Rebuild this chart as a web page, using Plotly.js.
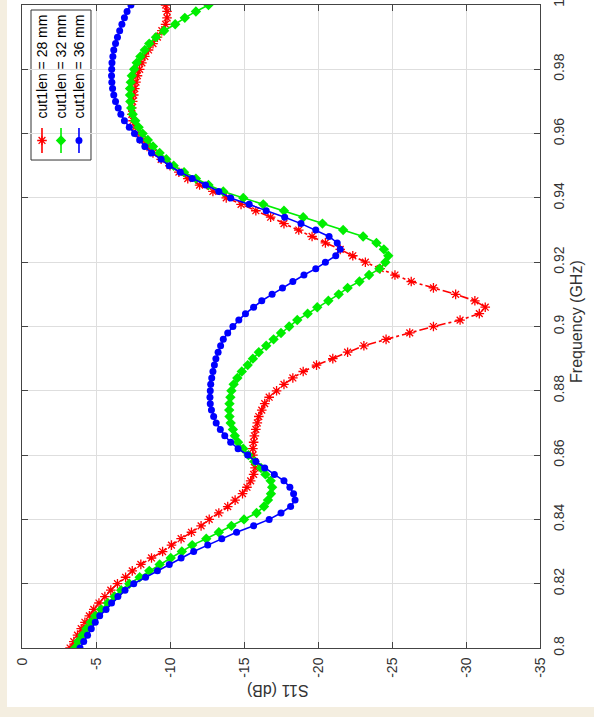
<!DOCTYPE html>
<html><head><meta charset="utf-8">
<script src="https://cdn.plot.ly/plotly-3.0.1.min.js"></script>
<style>
html,body{margin:0;padding:0;background:#f4eee0;width:594px;height:717px;overflow:hidden}
#chart{position:absolute;left:7px;top:0;width:587px;height:707px;background:#fff}
</style></head><body><div id="chart"></div>
<script>
const freqGHz = [
0.800,0.802,0.804,0.806,0.808,0.810,0.812,0.814,0.816,0.818,
0.820,0.822,0.824,0.826,0.828,0.830,0.832,0.834,0.836,0.838,
0.840,0.842,0.844,0.846,0.848,0.850,0.852,0.854,0.856,0.858,
0.860,0.862,0.864,0.866,0.868,0.870,0.872,0.874,0.876,0.878,
0.880,0.882,0.884,0.886,0.888,0.890,0.892,0.894,0.896,0.898,
0.900,0.902,0.904,0.906,0.908,0.910,0.912,0.914,0.916,0.918,
0.920,0.922,0.924,0.926,0.928,0.930,0.932,0.934,0.936,0.938,
0.940,0.942,0.944,0.946,0.948,0.950,0.952,0.954,0.956,0.958,
0.960,0.962,0.964,0.966,0.968,0.970,0.972,0.974,0.976,0.978,
0.980,0.982,0.984,0.986,0.988,0.990,0.992,0.994,0.996,0.998,
1.000];
const s11_28mm = [
-3.25,-3.5,-3.75,-4.0,-4.25,-4.55,-4.85,-5.2,-5.6,-6.0,
-6.45,-7.0,-7.45,-8.03,-8.75,-9.5,-10.1,-10.75,-11.45,-12.1,
-12.65,-13.3,-13.9,-14.4,-14.9,-15.2,-15.45,-15.65,-15.75,-15.7,
-15.6,-15.6,-15.65,-15.7,-15.8,-15.9,-16.0,-16.2,-16.4,-16.7,
-17.2,-17.7,-18.3,-19.0,-19.9,-21.0,-22.0,-23.1,-24.6,-26.2,
-27.8,-29.6,-30.9,-31.3,-30.6,-29.3,-27.8,-26.3,-25.2,-24.2,
-23.2,-22.35,-21.5,-20.5,-19.6,-18.7,-17.7,-16.8,-15.8,-14.8,
-13.8,-12.9,-12.0,-11.2,-10.6,-10.0,-9.4,-8.85,-8.45,-8.15,
-7.85,-7.65,-7.5,-7.42,-7.42,-7.48,-7.55,-7.62,-7.7,-7.8,
-7.95,-8.1,-8.3,-8.55,-8.85,-9.15,-9.45,-9.7,-9.8,-9.8,
-9.7];
const s11_32mm = [
-3.58,-3.8,-4.08,-4.35,-4.65,-4.95,-5.35,-5.8,-6.25,-6.7,
-7.25,-7.95,-8.6,-9.3,-10.05,-10.8,-11.5,-12.45,-13.3,-14.15,
-15.0,-15.85,-16.35,-16.62,-16.82,-16.9,-16.8,-16.45,-16.15,-15.7,
-15.3,-14.95,-14.6,-14.38,-14.25,-14.1,-14.02,-14.0,-14.02,-14.08,
-14.15,-14.3,-14.55,-14.85,-15.25,-15.6,-16.0,-16.5,-17.0,-17.5,
-18.05,-18.6,-19.3,-19.95,-20.7,-21.4,-22.0,-22.8,-23.45,-24.15,
-24.55,-24.75,-24.45,-23.95,-23.05,-21.7,-20.3,-19.0,-17.7,-16.3,
-14.95,-13.6,-12.6,-11.75,-10.95,-10.25,-9.75,-9.3,-8.85,-8.5,
-8.15,-7.88,-7.65,-7.48,-7.38,-7.32,-7.3,-7.3,-7.35,-7.42,
-7.58,-7.75,-8.0,-8.3,-8.6,-9.05,-9.6,-10.35,-11.0,-11.75,
-12.6];
const s11_36mm = [
-3.92,-4.17,-4.43,-4.68,-4.95,-5.25,-5.68,-6.05,-6.48,-6.96,
-7.55,-8.35,-9.15,-9.95,-10.75,-11.6,-12.55,-13.5,-14.5,-15.65,
-16.7,-17.5,-18.15,-18.45,-18.35,-18.1,-17.7,-17.05,-16.4,-15.8,
-15.25,-14.6,-14.1,-13.7,-13.4,-13.12,-12.95,-12.8,-12.72,-12.7,
-12.72,-12.75,-12.82,-12.9,-13.0,-13.1,-13.25,-13.42,-13.6,-13.9,
-14.25,-14.65,-15.1,-15.65,-16.2,-16.9,-17.6,-18.3,-19.05,-19.85,
-20.5,-21.2,-21.5,-21.3,-20.75,-19.85,-18.85,-17.75,-16.5,-15.35,
-14.1,-13.3,-12.4,-11.5,-10.7,-9.95,-9.4,-8.75,-8.3,-7.95,
-7.6,-7.25,-6.92,-6.68,-6.5,-6.32,-6.2,-6.12,-6.07,-6.05,
-6.06,-6.08,-6.14,-6.2,-6.32,-6.45,-6.6,-6.75,-6.92,-7.1,
-7.36];
const seriesNames = ['cut1len = 28 mm','cut1len = 32 mm','cut1len = 36 mm'];
const s11TickVals = [0,-5,-10,-15,-20,-25,-30,-35];
const s11TickText = ['0','-5','-10','-15','-20','-25','-30','-35'];
const freqTickVals = [0.8,0.82,0.84,0.86,0.88,0.9,0.92,0.94,0.96,0.98,1];
const freqTickText = ['0.8','0.82','0.84','0.86','0.88','0.9','0.92','0.94','0.96','0.98','1'];
const xTitle = 'S11 (dB)';
const yTitle = 'Frequency (GHz)';

const styles = [
  {color:'#ff0000', dash:'dashdot', symbol:'asterisk-open', size:8, lw:1.3},
  {color:'#00ee00', dash:'solid', symbol:'diamond', size:8, lw:0},
  {color:'#0000ff', dash:'solid', symbol:'circle', size:7, lw:0}
];
const seriesData = [s11_28mm, s11_32mm, s11_36mm];

const traces = [];
seriesData.forEach((vals,i)=>{
  const st = styles[i];
  traces.push({
    type:'scatter', mode:'lines+markers', name:seriesNames[i],
    x: vals, y: freqGHz, xaxis:'x', yaxis:'y',
    line:{color:st.color, width:1.6, dash:st.dash},
    marker:{symbol:st.symbol, size:st.size, color:st.color, line:{color:st.color, width:st.lw}},
    hoverinfo:'skip'
  });
});

// Rotated legend (drawn manually on an overlay axis pair in unit coordinates)
const legX = [0.0386, 0.0753, 0.1100];
const legY0 = 0.7698, legY1 = 0.8087, legYm = 0.7893;
styles.forEach((st,i)=>{
  traces.push({type:'scatter', mode:'lines', x:[legX[i],legX[i]], y:[legY0,legY1], xaxis:'x2', yaxis:'y2',
    line:{color:st.color, width:1.6, dash:'solid'}, hoverinfo:'skip', showlegend:false});
  traces.push({type:'scatter', mode:'markers', x:[legX[i]], y:[legYm], xaxis:'x2', yaxis:'y2',
    marker:{symbol:st.symbol, size:st.size, color:st.color, line:{color:st.color, width:st.lw}}, hoverinfo:'skip', showlegend:false});
});

const axisCommon = {
  ticks:'inside', ticklen:6, tickcolor:'#444', tickwidth:1,
  showline:true, linecolor:'#444', linewidth:1, mirror:'ticks',
  showgrid:true, gridcolor:'#dedede', gridwidth:1, zeroline:false,
  tickangle:-90, tickfont:{family:'Liberation Sans, Arial, sans-serif', size:14, color:'#333'},
  ticklabeloverflow:'allow',
  fixedrange:true
};

const annotations = [
  {xref:'paper', yref:'paper', x:1.0714, y:0.5086, text:yTitle, showarrow:false, textangle:-90,
   xanchor:'center', yanchor:'middle', font:{size:16, color:'#333'}},
  {xref:'paper', yref:'paper', x:0.494, y:-0.0653, text:xTitle, showarrow:false, textangle:180,
   xanchor:'center', yanchor:'middle', font:{size:16, color:'#333'}}
];
seriesNames.forEach((n,i)=>{
  annotations.push({xref:'paper', yref:'paper', x:legX[i], y:0.9044, text:n, showarrow:false, textangle:-90,
    xanchor:'center', yanchor:'middle', font:{size:14, color:'#000'}});
});

const layout = {
  width:587, height:707,
  margin:{l:15, r:54, t:5, b:59, pad:0},
  paper_bgcolor:'#ffffff', plot_bgcolor:'#ffffff',
  showlegend:false,
  font:{family:'Liberation Sans, Arial, sans-serif', size:14, color:'#333'},
  xaxis:Object.assign({}, axisCommon, {range:[0,-35], tickmode:'array', tickvals:s11TickVals, ticktext:s11TickText, ticklabelstandoff:3}),
  yaxis:Object.assign({}, axisCommon, {range:[0.8,1], side:'right', tickmode:'array', tickvals:freqTickVals, ticktext:freqTickText, ticklabelstandoff:6}),
  xaxis2:{overlaying:'x', anchor:'y2', range:[0,1], visible:false, fixedrange:true},
  yaxis2:{overlaying:'y', anchor:'x2', range:[0,1], visible:false, fixedrange:true},
  shapes:[{type:'rect', xref:'paper', yref:'paper', x0:0.0174, x1:0.1332, y0:0.7589, y1:0.9922,
    line:{color:'#333', width:1}, fillcolor:'#ffffff', layer:'between'}],
  annotations:annotations
};

Plotly.newPlot('chart', traces, layout, {staticPlot:true, displayModeBar:false});
</script></body></html>
